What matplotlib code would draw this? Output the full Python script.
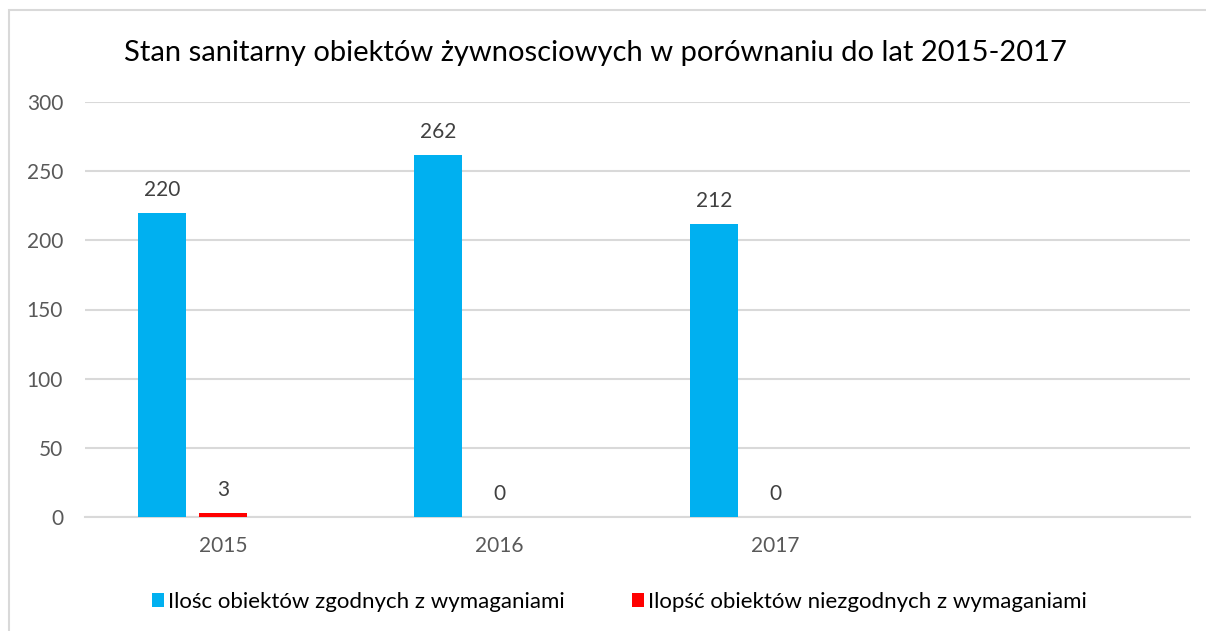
import matplotlib
matplotlib.use("Agg")
import matplotlib.pyplot as plt
from matplotlib.patches import Rectangle
import numpy as np

categories = ["2015", "2016", "2017"]
n_slots = 4  # the chart reserves an empty fourth category slot
series_names = ["Ilośc obiektów zgodnych z wymaganiami",
                "Ilopść obiektów niezgodnych z wymaganiami"]
zgodne = [220, 262, 212]
niezgodne = [3, 0, 0]
title = "Stan sanitarny obiektów żywnosciowych w porównaniu do lat 2015-2017"

plt.rcParams["font.family"] = ["Lato", "DejaVu Sans"]

W, H = 1206, 631
fig = plt.figure(figsize=(W / 100, H / 100), dpi=100)
fig.patch.set_facecolor("white")

# chart-area border
fig.add_artist(Rectangle((9 / W, -0.1), 1.2, 1 - 10 / H + 0.1,
                         transform=fig.transFigure, fill=False,
                         edgecolor="#D9D9D9", linewidth=1.5))

ax = fig.add_axes([85.3 / W, 1 - 516.7 / H, (1190 - 85.3) / W, (516.7 - 102.3) / H])

x = np.arange(len(categories))
bw = 0.174
off = 0.222
blue = "#00B0F0"
red = "#FF0000"
b1 = ax.bar(x - off, zgodne, width=bw, color=blue, label=series_names[0], zorder=3)
b2 = ax.bar(x, niezgodne, width=bw, color=red, label=series_names[1], zorder=3)

for bars, vals in ((b1, zgodne), (b2, niezgodne)):
    for rect, v in zip(bars, vals):
        ax.annotate(str(v), (rect.get_x() + rect.get_width() / 2, rect.get_height()),
                    xytext=(0, 12), textcoords="offset points",
                    ha="center", va="baseline", fontsize=15, color="#404040")

ax.set_xlim(-0.5, n_slots - 0.5)
ax.set_ylim(0, 300)
ax.set_yticks(np.arange(0, 301, 50))
ax.set_xticks(x)
ax.set_xticklabels(categories)
ax.tick_params(axis="both", length=0, labelsize=15, labelcolor="#595959")
ax.tick_params(axis="y", pad=16)
ax.tick_params(axis="x", pad=14)
ax.grid(axis="y", color="#D9D9D9", linewidth=1.5, zorder=0)
for s in ["top", "right", "left"]:
    ax.spines[s].set_visible(False)
ax.spines["bottom"].set_color("#D9D9D9")
ax.spines["bottom"].set_linewidth(1.5)

fig.text(595.5 / W, 1 - 53 / H, title, ha="center", va="center",
         fontsize=21, color="#000000")

legend_x = [152, 632]
for handle, lx in zip((b1, b2), legend_x):
    fig.legend(handles=[handle], loc="center left", bbox_to_anchor=(lx / W, 1 - 602 / H),
               frameon=False, fontsize=16, handlelength=0.55, handleheight=0.55,
               handletextpad=0.18, borderpad=0, borderaxespad=0, labelcolor="#000000")

fig.savefig("out.png", dpi=100)
